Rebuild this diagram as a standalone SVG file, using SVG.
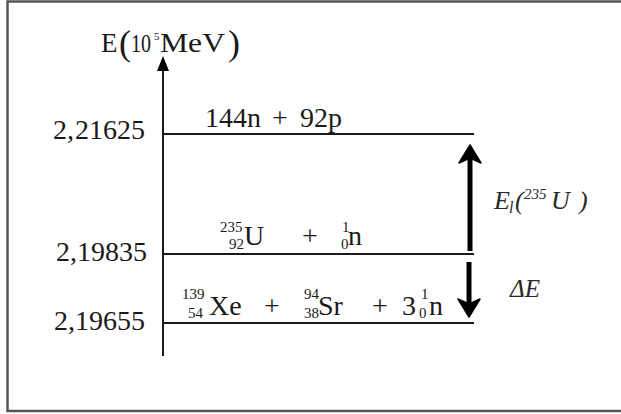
<svg xmlns="http://www.w3.org/2000/svg" width="621" height="414" viewBox="0 0 621 414">
<style>
.t{font-family:"Liberation Serif","Times New Roman",serif;fill:#1a1a1a;}
.m{font-size:28px;}
.s{font-size:15px;}
.i{font-family:"Liberation Serif","DejaVu Serif",serif;font-style:italic;fill:#2a2a2a;}
.ln{stroke:#1a1a1a;stroke-width:2;fill:none;}
.thick{stroke:#000;stroke-width:5;fill:none;}
</style>
<rect x="7.5" y="1.5" width="630" height="409.5" fill="#fff" stroke="#555" stroke-width="2.5"/>

<g id="axis">
<line class="ln" x1="163" y1="356" x2="163" y2="68"/>
<polygon points="163,56 157,71 169,71" fill="#000"/>
<text class="t"><tspan x="101" y="52" font-size="27">E</tspan><tspan x="119" y="55" font-size="36">(</tspan><tspan x="131" y="52" font-size="25" textLength="20" lengthAdjust="spacingAndGlyphs">10</tspan><tspan x="154" y="40" font-size="11">5</tspan><tspan x="160" y="52" font-size="27" textLength="65" lengthAdjust="spacingAndGlyphs">MeV</tspan><tspan x="228" y="55" font-size="36">)</tspan></text>
</g>

<g id="level-top">
<line class="ln" x1="163" y1="134" x2="474" y2="134"/>
<text class="t m" y="139"><tspan x="53">2,</tspan><tspan x="75">21625</tspan></text>
<text class="t m" y="127"><tspan x="205">144n</tspan><tspan x="272">+</tspan><tspan x="300">92p</tspan></text>
</g>

<g id="level-mid">
<line class="ln" x1="163" y1="254" x2="474" y2="254"/>
<text class="t m" y="261"><tspan x="56">2,</tspan><tspan x="77">19835</tspan></text>
<text class="t"><tspan class="s" x="220" y="232">235</tspan><tspan class="s" x="229" y="249">92</tspan><tspan class="m" x="244" y="245">U</tspan><tspan class="m" x="302" y="245">+</tspan><tspan class="s" x="342" y="232">1</tspan><tspan class="s" x="341" y="249">0</tspan><tspan class="m" x="348" y="245">n</tspan></text>
</g>

<g id="level-bot">
<line class="ln" x1="163" y1="323" x2="474" y2="323"/>
<text class="t m" y="330"><tspan x="54">2,</tspan><tspan x="75">19655</tspan></text>
<text class="t"><tspan class="s" x="182" y="299">139</tspan><tspan class="s" x="188" y="318">54</tspan><tspan class="m" x="209" y="315">Xe</tspan><tspan class="m" x="264" y="315">+</tspan><tspan class="s" x="304" y="299">94</tspan><tspan class="s" x="304" y="318">38</tspan><tspan class="m" x="318" y="315">Sr</tspan><tspan class="m" x="372" y="315">+</tspan><tspan class="m" x="402" y="315">3</tspan><tspan class="s" x="421" y="299">1</tspan><tspan class="s" x="419" y="318">0</tspan><tspan class="m" x="429" y="315">n</tspan></text>
</g>

<g id="connectors">
<line class="thick" x1="470" y1="251" x2="470" y2="158"/>
<polygon points="470,145 459,163 470,158 481,163" fill="#000" stroke="#000" stroke-width="1.5" stroke-linejoin="round"/>
<line class="thick" x1="469" y1="262" x2="469" y2="303"/>
<polygon points="469,317 458,299 469,304 480,299" fill="#000" stroke="#000" stroke-width="1.5" stroke-linejoin="round"/>
</g>

<g id="label-El">
<text class="i"><tspan x="494" y="209" font-size="26">E</tspan><tspan x="509" y="213" font-size="16">l</tspan><tspan x="515" y="209" font-size="26">(</tspan><tspan x="524" y="199" font-size="15">235</tspan><tspan x="551" y="209" font-size="26">U</tspan><tspan x="579" y="209" font-size="26">)</tspan></text>
</g>
<g id="label-dE">
<text class="i" x="510" y="297" font-size="25">ΔE</text>
</g>
</svg>
